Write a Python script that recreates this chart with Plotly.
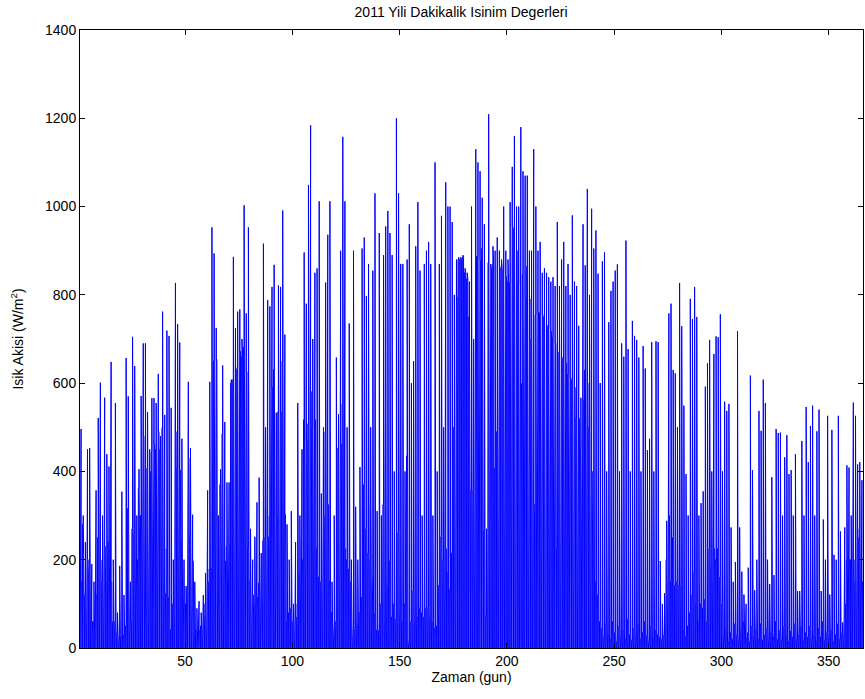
import plotly.graph_objects as go

# Daily peak irradiance (W/m^2), day 1..365
peak = [
    496,300,240,450,453,190,150,357,521,601,
    300,567,439,411,648,200,555,80,186,354,
    120,657,570,150,705,639,300,405,571,690,
    690,534,450,566,566,555,621,480,762,528,
    719,707,544,200,827,734,692,474,200,140,
    603,453,302,150,90,106,80,120,170,357,
    603,953,894,725,300,405,640,512,375,375,
    608,886,725,762,767,700,1003,758,953,270,
    200,252,330,386,215,916,500,788,774,818,
    868,533,821,818,991,710,280,200,310,100,
    240,555,300,450,896,780,1049,1184,700,850,
    860,1012,350,500,828,936,1012,150,300,658,
    530,900,1158,1012,500,735,200,900,320,200,
    410,905,930,797,870,500,855,1030,310,940,
    300,890,955,990,940,890,400,1200,1030,870,
    870,400,880,960,600,650,910,1010,855,300,
    870,900,920,870,300,1100,400,870,979,500,
    1055,1000,1000,965,800,880,885,885,890,860,
    850,830,1000,700,1130,1100,1080,1020,960,270,
    1209,870,910,900,930,900,880,1000,900,880,
    1010,1090,1160,1000,1000,1180,1080,1070,1070,900,
    900,1130,1000,900,920,850,860,850,840,830,
    840,820,965,820,880,920,820,870,800,980,
    830,820,730,567,960,867,1040,800,995,905,
    946,848,600,876,896,400,738,809,830,855,
    869,400,690,660,923,677,400,741,707,698,
    658,400,684,633,448,474,693,400,695,693,
    197,100,124,288,758,780,630,622,500,827,
    729,549,394,300,791,745,818,750,300,328,
    355,592,645,698,400,666,706,704,756,400,
    558,537,553,273,150,195,718,273,173,121,
    100,182,617,403,131,200,537,492,608,555,
    200,145,387,165,496,487,488,300,432,482,
    394,403,300,439,129,129,469,300,546,421,
    503,549,300,491,540,129,291,200,526,121,
    494,211,200,526,264,58,273,414,409,300,
    556,526,416,421,380,
]

# Daily typical (smooth) level of the day's curve (W/m^2)
base = [
    150,280,120,200,180,60,60,120,250,200,
    150,230,150,240,150,60,60,35,30,25,
    30,50,316,60,270,260,200,362,300,480,
    79,407,400,444,462,450,490,450,499,124,
    225,115,42,100,490,407,403,243,140,100,
    430,252,197,33,40,40,50,70,100,150,
    179,180,650,654,100,370,485,197,230,234,
    600,608,631,635,672,660,681,626,225,152,
    120,97,115,147,100,243,250,252,298,590,
    631,298,535,535,650,302,60,80,90,60,
    70,100,170,200,517,471,508,581,500,517,
    225,161,150,300,490,325,152,80,60,60,
    453,462,553,225,200,179,150,51,42,50,
    80,115,370,270,215,200,170,79,40,40,
    100,325,50,142,197,70,100,65,261,75,
    60,100,435,20,60,130,55,70,90,80,
    70,90,92,70,60,45,50,142,252,200,
    225,170,133,215,500,795,880,880,885,850,
    836,750,357,357,887,887,878,905,266,74,
    873,860,869,407,490,864,860,855,841,830,
    827,955,950,900,823,599,846,791,864,700,
    791,325,754,760,759,755,750,731,725,717,
    704,690,225,670,658,654,645,620,613,608,
    590,521,520,450,560,630,600,500,400,200,
    150,120,60,45,25,55,30,20,60,35,
    15,50,25,40,20,65,30,18,45,25,
    55,20,35,60,28,15,50,22,40,30,
    25,20,30,200,300,150,250,142,150,142,
    142,40,25,50,80,120,170,100,60,100,
    90,110,60,225,180,225,200,225,160,100,
    25,45,15,35,20,55,30,18,40,60,
    22,35,15,50,28,40,20,55,18,30,
    45,15,35,25,60,20,40,18,50,28,
    15,38,25,55,20,30,48,16,35,25,
    50,20,30,15,45,25,60,18,35,22,
    40,15,30,55,20,35,100,200,200,200,
    150,200,250,270,150,
]

days = list(range(1, len(peak) + 1))

x_ticks = [50, 100, 150, 200, 250, 300, 350]
y_ticks = [0, 200, 400, 600, 800, 1000, 1200, 1400]

# Build each day's daylight curve: rises to the typical level, one spike to the peak
offsets = [-0.40, -0.30, -0.03, 0.0, 0.03, 0.30, 0.40]
xs, ys = [], []
for d, p, b in zip(days, peak, base):
    c = d + 0.5
    vals = [0, b, b, p, b, b, 0]
    for o, v in zip(offsets, vals):
        xs.append(c + o)
        ys.append(v)

fig = go.Figure()
fig.add_trace(go.Scatter(x=xs, y=ys, mode="lines", fill="tozeroy",
                         fillcolor="#4646ff",
                         line=dict(color="#0000ff", width=1),
                         hoverinfo="skip", showlegend=False))

font = dict(family="Liberation Sans, Arial, sans-serif", size=13, color="black")
fig.update_layout(
    width=865, height=699,
    margin=dict(l=80, r=2, t=30, b=51, autoexpand=False),
    paper_bgcolor="white", plot_bgcolor="white",
    font=font,
    title=dict(text="2011 Yili Dakikalik Isinim Degerleri", x=0.533, xanchor="center",
               y=0.983, yanchor="middle", font=dict(size=14)),
    xaxis=dict(range=[1, 366], tickvals=x_ticks, ticks="inside", ticklen=5,
               tickcolor="black", showline=True, linecolor="black", linewidth=1,
               mirror="ticks", showgrid=False, zeroline=False, automargin=False,
               tickfont=dict(size=14),
               title=dict(text="Zaman (gun)", standoff=2, font=dict(size=14))),
    yaxis=dict(range=[0, 1400], tickvals=y_ticks, ticks="inside", ticklen=5,
               tickcolor="black", showline=True, linecolor="black", linewidth=1,
               mirror="ticks", showgrid=False, zeroline=False, automargin=False,
               tickfont=dict(size=14),
               title=dict(text="Isik Akisi (W/m<sup>2</sup>)", standoff=18, font=dict(size=14))),
)

fig.write_html("out.html", config={"displayModeBar": False},
               post_script="document.body.style.margin='0';document.body.style.overflow='hidden';")
